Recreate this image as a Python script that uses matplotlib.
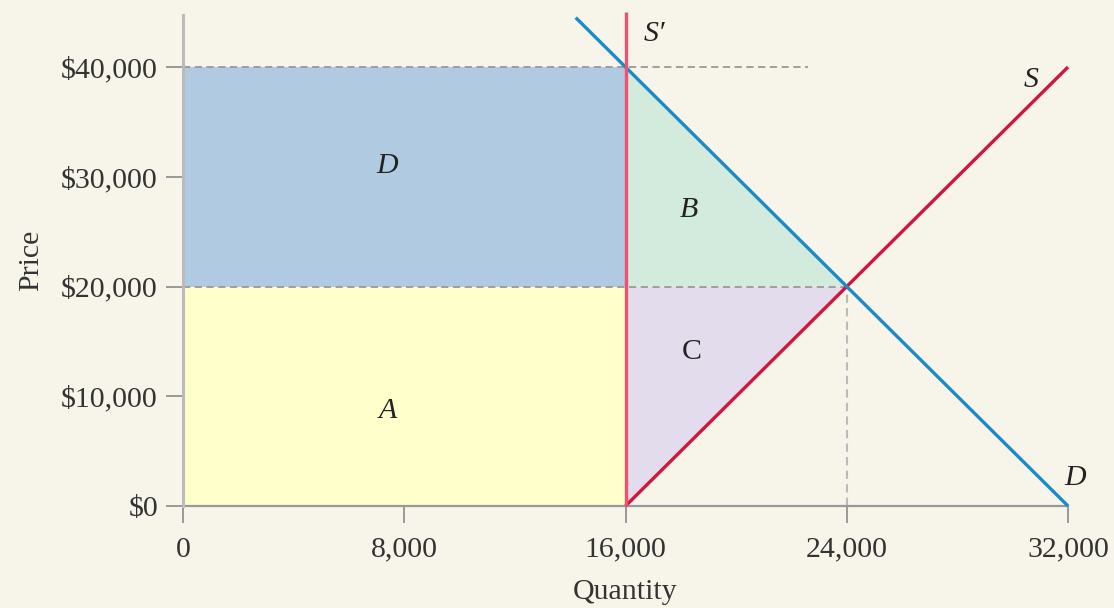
import matplotlib
matplotlib.use("Agg")
import matplotlib.pyplot as plt

# Data
q_ticks = [0, 8000, 16000, 24000, 32000]
q_tick_labels = ["0", "8,000", "16,000", "24,000", "32,000"]
p_ticks = [0, 10000, 20000, 30000, 40000]
p_tick_labels = ["$0", "$10,000", "$20,000", "$30,000", "$40,000"]

demand_q = [14200, 32000]
demand_p = [44500, 0]
supply_q = [16000, 32000]
supply_p = [0, 40000]
supply_cap_q = [16000, 16000]
supply_cap_p = [0, 45000]

quota_q = 16000
equil_q = 24000
equil_p = 20000
quota_p = 40000

region_labels = {"D": (7400, 31000), "B": (18300, 27000), "C": (18400, 14000), "A": (7400, 8700)}

bg = "#f7f4e9"
plt.rcParams["font.family"] = ["Liberation Serif", "DejaVu Serif"]
FS = 21.5

fig = plt.figure(figsize=(11.14, 6.08), dpi=100, facecolor=bg)
ax = fig.add_axes([183/1114, 1-506/608, (1068-183)/1114, (506-15)/608])
ax.set_facecolor(bg)
ax.set_xlim(0, 32000)
ax.set_ylim(0, 44740)

# Areas
ax.fill([0, quota_q, quota_q, 0], [equil_p, equil_p, quota_p, quota_p], color="#b0cbe1", lw=0, zorder=1)
ax.fill([0, quota_q, quota_q, 0], [0, 0, equil_p, equil_p], color="#ffffcc", lw=0, zorder=1)
ax.fill([quota_q, quota_q, equil_q], [equil_p, quota_p, equil_p], color="#d3ebdc", lw=0, zorder=1)
ax.fill([quota_q, quota_q, equil_q], [0, equil_p, equil_p], color="#e3dcec", lw=0, zorder=1)

# Dashed guides
ax.plot([0, 22600], [quota_p, quota_p], ls=(0, (4, 2.5)), color="#999999", lw=1.3, zorder=2)
ax.plot([0, equil_q], [equil_p, equil_p], ls=(0, (4, 2.5)), color="#999999", lw=1.3, zorder=2)
ax.plot([equil_q, equil_q], [0, equil_p], ls=(0, (4, 2.5)), color="#bbbbbb", lw=1.5, zorder=2)

# Curves
ax.plot(supply_q, supply_p, color="#d4143c", lw=2.4, zorder=3, clip_on=False, solid_capstyle="butt")
ax.plot(demand_q, demand_p, color="#1a8bc9", lw=2.4, zorder=4, clip_on=False, solid_capstyle="butt")
ax.plot(supply_cap_q, supply_cap_p, color="#f2506f", lw=2.4, zorder=5, clip_on=False, solid_capstyle="butt")

# Labels
for k, (x, y) in region_labels.items():
    style = "normal" if k == "C" else "italic"
    ax.text(x, y, k, fontsize=FS, style=style, ha="center", va="center", color="#222222", zorder=6)
ax.text(17050, 43000, "S\u2032", fontsize=FS, style="italic", ha="center", va="center", color="#222222")
ax.text(30650, 38800, "S", fontsize=FS, style="italic", ha="center", va="center", color="#222222")
ax.text(32250, 2550, "D", fontsize=FS, style="italic", ha="center", va="center", color="#222222")

# Axes styling
for s in ["top", "right"]:
    ax.spines[s].set_visible(False)
ax.spines["left"].set_color("#bbbbbb")
ax.spines["left"].set_linewidth(2.2)
ax.spines["bottom"].set_color("#999999")
ax.spines["bottom"].set_linewidth(1.6)
ax.spines["left"].set_zorder(7)

ax.set_xticks(q_ticks)
ax.set_xticklabels(q_tick_labels)
ax.set_yticks(p_ticks)
ax.set_yticklabels(p_tick_labels)
ax.tick_params(axis="both", length=12, width=1.4, color="#999999", labelsize=FS, labelcolor="#333333")
ax.tick_params(axis="y", pad=6)
ax.tick_params(axis="x", pad=10)

ax.set_xlabel("Quantity", fontsize=FS, color="#333333", labelpad=12)
ax.set_ylabel("Price", fontsize=FS, color="#333333", labelpad=12)

fig.savefig("out.png", dpi=100, facecolor=bg)
